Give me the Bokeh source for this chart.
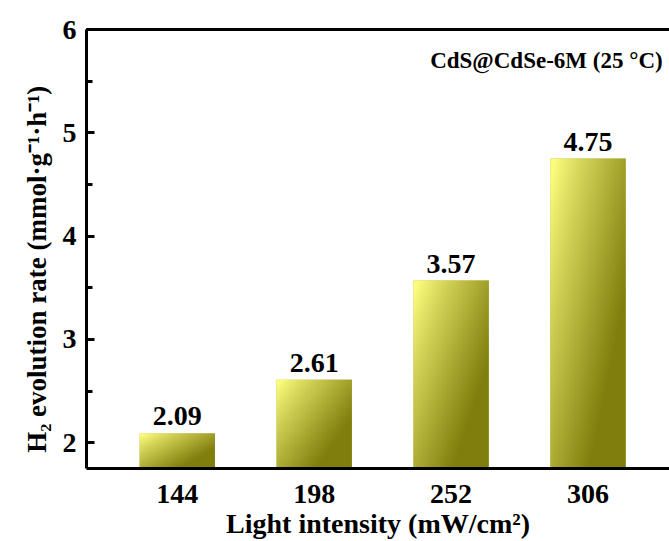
import numpy as np
from bokeh.plotting import figure
from bokeh.models import (FixedTicker, SingleIntervalTicker, LinearAxis, Range1d,
                          Label, ColumnDataSource)
from bokeh.embed import file_html
from bokeh.resources import INLINE
from bokeh.core.properties import value

# ---- data ----
categories = ["144", "198", "252", "306"]
rates = [2.09, 2.61, 3.57, 4.75]
rate_labels = ["2.09", "2.61", "3.57", "4.75"]
y_ticks = [2, 3, 4, 5, 6]
annotation = "CdS@CdSe-6M (25 \u00b0C)"

FONT = "Liberation Serif"
BAR_W = 0.55
Y0, Y1 = 1.75, 6.0

xs = list(range(len(categories)))

p = figure(width=669, height=541, output_backend="svg", toolbar_location=None,
           x_range=Range1d(-0.663, 3.595), y_range=Range1d(Y0, Y1),
           min_border_left=86, min_border_right=0, min_border_top=29,
           min_border_bottom=72)
p.outline_line_color = None
p.xgrid.visible = False
p.ygrid.visible = False
p.background_fill_color = "white"
p.border_fill_color = "white"

# base bars (flat colour) then a gradient image on top of each bar
src = ColumnDataSource(dict(x=xs, top=rates, label=rate_labels))
p.vbar(x="x", top="top", bottom=Y0, width=BAR_W, source=src,
       fill_color="#b9b843", line_color=None)

# gradient image (colour only, no data)
H, W = 240, 90
u = np.linspace(0, 1, W)[None, :]
v = np.linspace(1, 0, H)[:, None]  # row 0 = bottom -> v=1 (bottom)
t = np.clip(0.75 * u + 0.65 * v - 0.05, 0, 1) ** 0.9
light = np.array([252, 252, 125])
dark = np.array([128, 126, 12])
rgb = light[None, None, :] * (1 - t[..., None]) + dark[None, None, :] * t[..., None]
img = np.empty((H, W), dtype=np.uint32)
view = img.view(dtype=np.uint8).reshape((H, W, 4))
view[..., 0] = rgb[..., 0].astype(np.uint8)
view[..., 1] = rgb[..., 1].astype(np.uint8)
view[..., 2] = rgb[..., 2].astype(np.uint8)
view[..., 3] = 255

p.image_rgba(image=[img] * len(xs),
             x=[x - BAR_W / 2 for x in xs], y=[Y0] * len(xs),
             dw=[BAR_W] * len(xs), dh=[r - Y0 for r in rates])

# value labels
p.text(x="x", y="top", text="label", source=src, y_offset=-8,
       text_align="center", text_baseline="bottom",
       text_font=value(FONT), text_font_style="bold", text_font_size="28px",
       text_color="black")

# annotation
p.add_layout(Label(x=3.545, y=5.70, text=annotation, text_align="right",
                   text_baseline="alphabetic", text_font=FONT,
                   text_font_style="bold", text_font_size="23px",
                   text_color="black"))

# axes
xa = p.xaxis[0]
xa.ticker = FixedTicker(ticks=xs)
xa.major_label_overrides = {i: c for i, c in zip(xs, categories)}
xa.major_tick_line_color = None
xa.minor_tick_line_color = None
xa.axis_line_width = 3
xa.axis_label = "Light intensity (mW/cm\u00b2)"
xa.major_label_standoff = 10
xa.axis_label_standoff = 2

ya = p.yaxis[0]
ya.ticker = SingleIntervalTicker(interval=1, num_minor_ticks=2)
ya.axis_line_width = 3
ya.major_tick_line_width = 3
ya.minor_tick_line_width = 3
ya.major_tick_in = 8
ya.major_tick_out = 0
ya.minor_tick_in = 6
ya.minor_tick_out = 0
ya.major_label_standoff = 10
# trailing no-break spaces shift the visible label a little lower, as in the reference
ya.axis_label = "H\u2082 evolution rate (mmol\u00b7g\u207b\u00b9\u00b7h\u207b\u00b9)" + "\u00a0" * 6
ya.axis_label_standoff = 8

for ax in (xa, ya):
    ax.major_label_text_font = FONT
    ax.major_label_text_font_style = "bold"
    ax.major_label_text_font_size = "28px"
    ax.major_label_text_color = "black"
    ax.axis_label_text_font = FONT
    ax.axis_label_text_font_style = "bold"
    ax.axis_label_text_color = "black"
    ax.axis_line_color = "black"
xa.axis_label_text_font_size = "28px"
ya.axis_label_text_font_size = "27px"

top = LinearAxis(ticker=FixedTicker(ticks=[]), axis_line_width=3,
                 axis_line_color="black", major_tick_line_color=None,
                 minor_tick_line_color=None, major_label_text_font_size="0px")
p.add_layout(top, "above")

open("out.html", "w").write(file_html(p, INLINE))
